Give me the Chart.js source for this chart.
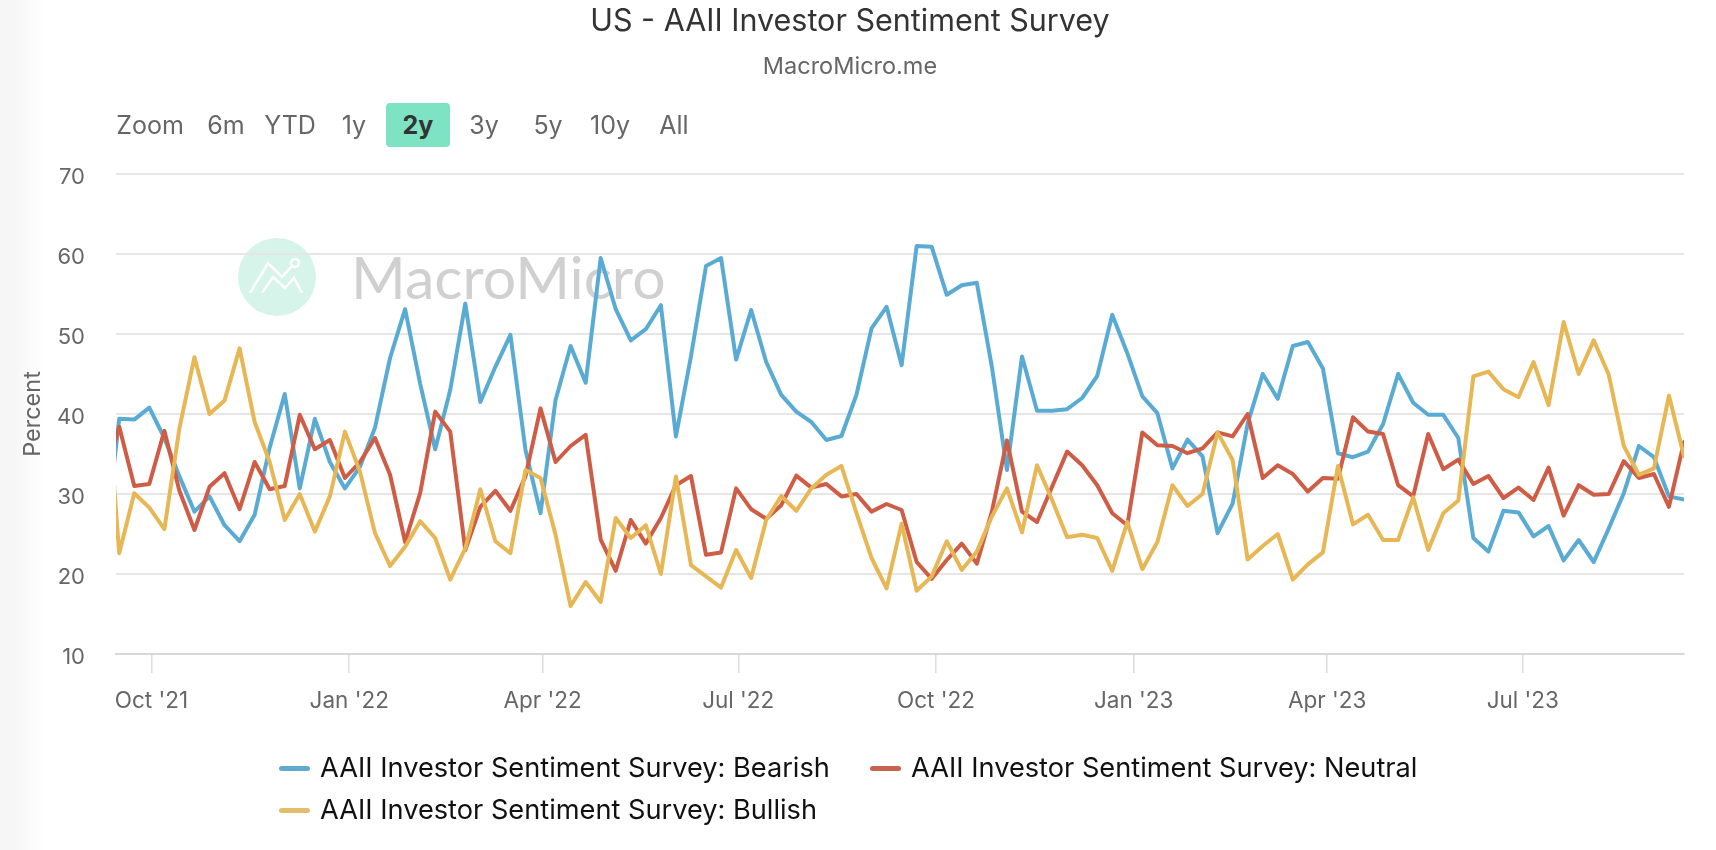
<!DOCTYPE html>
<html>
<head>
<meta charset="utf-8">
<title>US - AAII Investor Sentiment Survey</title>
<script src="https://cdn.jsdelivr.net/npm/chart.js@4"></script>
<style>
    html, body { margin: 0; padding: 0; background: #fff; }
    body { width: 1716px; height: 850px; position: relative; overflow: hidden; font-family: Inter, sans-serif; }
    #edge { position: absolute; left: 0; top: 0; width: 44px; height: 850px; background: linear-gradient(to right, #f6f6f6 0, #f6f6f6 14px, #fff 44px); }
    #chart { position: absolute; left: 0; top: 0; }
    .head { position: absolute; left: 0; width: 1700px; text-align: center; white-space: nowrap; }
    #title { top: 1px; font-size: 30.5px; color: #333; }
    #subtitle { top: 51px; font-size: 23.5px; color: #666; }
    #buttons span { position: absolute; top: 103px; height: 44px; line-height: 44px; font-size: 25px; color: #666; text-align: center; transform: translateX(-50%); white-space: nowrap; }
    #buttons span.active { width: 64px; background: #7de3c3; color: #333; font-weight: bold; border-radius: 4px; }
    #mark { position: absolute; left: 238px; top: 238px; width: 78px; height: 78px; filter: blur(0.4px); }
    #markText { position: absolute; left: 351px; top: 241px; font-family: Lato, sans-serif; font-size: 59px; color: #d0d0d0; filter: blur(0.7px); white-space: nowrap; }
    .item { position: absolute; height: 30px; line-height: 30px; font-size: 27.2px; color: #111; white-space: nowrap; }
    .item i { position: absolute; left: 0; top: 13px; width: 31px; height: 5px; border-radius: 3px; }
    .item span { position: absolute; left: 41px; }
</style>
</head>
<body>
<div id="edge"></div>
<svg id="mark" viewBox="0 0 78 78">
    <circle cx="39" cy="39" r="39" fill="#d6f4ea"/>
    <polyline points="12,55 30,25 44,39 54,28" fill="none" stroke="#fff" stroke-width="2.5"/>
    <circle cx="57" cy="25" r="4" fill="none" stroke="#fff" stroke-width="2.5"/>
    <polyline points="24,55 35,39 47,50 56,40 64,55" fill="none" stroke="#fff" stroke-width="2.5"/>
</svg>
<div id="markText">MacroMicro</div>
<canvas id="chart" width="1716" height="850"></canvas>
<div class="head" id="title">US - AAII Investor Sentiment Survey</div>
<div class="head" id="subtitle">MacroMicro.me</div>
<div id="buttons"></div>
<div id="legend"></div>
<script>
// ========================================
// DATA
// ========================================

const weekDates = [
    '2021-09-09', '2021-09-16', '2021-09-23', '2021-09-30', '2021-10-07', '2021-10-14', '2021-10-21', '2021-10-28',
    '2021-11-04', '2021-11-11', '2021-11-18', '2021-11-25', '2021-12-02', '2021-12-09', '2021-12-16', '2021-12-23',
    '2021-12-30', '2022-01-06', '2022-01-13', '2022-01-20', '2022-01-27', '2022-02-03', '2022-02-10', '2022-02-17',
    '2022-02-24', '2022-03-03', '2022-03-10', '2022-03-17', '2022-03-24', '2022-03-31', '2022-04-07', '2022-04-14',
    '2022-04-21', '2022-04-28', '2022-05-05', '2022-05-12', '2022-05-19', '2022-05-26', '2022-06-02', '2022-06-09',
    '2022-06-16', '2022-06-23', '2022-06-30', '2022-07-07', '2022-07-14', '2022-07-21', '2022-07-28', '2022-08-04',
    '2022-08-11', '2022-08-18', '2022-08-25', '2022-09-01', '2022-09-08', '2022-09-15', '2022-09-22', '2022-09-29',
    '2022-10-06', '2022-10-13', '2022-10-20', '2022-10-27', '2022-11-03', '2022-11-10', '2022-11-17', '2022-11-24',
    '2022-12-01', '2022-12-08', '2022-12-15', '2022-12-22', '2022-12-29', '2023-01-05', '2023-01-12', '2023-01-19',
    '2023-01-26', '2023-02-02', '2023-02-09', '2023-02-16', '2023-02-23', '2023-03-02', '2023-03-09', '2023-03-16',
    '2023-03-23', '2023-03-30', '2023-04-06', '2023-04-13', '2023-04-20', '2023-04-27', '2023-05-04', '2023-05-11',
    '2023-05-18', '2023-05-25', '2023-06-01', '2023-06-08', '2023-06-15', '2023-06-22', '2023-06-29', '2023-07-06',
    '2023-07-13', '2023-07-20', '2023-07-27', '2023-08-03', '2023-08-10', '2023-08-17', '2023-08-24', '2023-08-31',
    '2023-09-07', '2023-09-14'
];

const bearish = [
    23, 39.4, 39.3, 40.8, 37, 32.2, 27.8, 29.7, 26.1, 24.1, 27.4, 35.8, 42.5, 30.7, 39.4, 34, 30.7, 33.4, 38.3, 47, 53.1,
    43.8, 35.6, 43, 53.8, 41.5, 45.9, 49.9, 35.5, 27.6, 41.75, 48.5, 43.9, 59.5, 53.1, 49.2, 50.6, 53.6, 37.2, 47.2, 58.5,
    59.5, 46.8, 53, 46.5, 42.4, 40.3, 39, 36.75, 37.25, 42.4, 50.7, 53.4, 46.1, 61, 60.9, 54.9, 56.1, 56.4, 45.9, 33,
    47.2, 40.4, 40.4, 40.6, 42, 44.75, 52.4, 47.6, 42.2, 40.1, 33.2, 36.8, 34.7, 25.1, 28.8, 38.8, 45, 41.9, 48.5, 49,
    45.7, 35.1, 34.6, 35.3, 38.75, 45, 41.4, 39.9, 39.9, 37, 24.5, 22.8, 27.9, 27.7, 24.7, 26, 21.7, 24.25, 21.5, 25.7,
    30.1, 36, 34.6, 29.7, 29.3
];

const neutral = [
    32, 38.4, 31, 31.25, 37.9, 30.4, 25.5, 30.9, 32.6, 28.1, 34, 30.6, 31, 39.9, 35.6, 36.75, 32, 34, 37, 32.4, 24, 30.1,
    40.3, 37.8, 23, 28.4, 30.4, 27.9, 32.2, 40.7, 34, 36, 37.4, 24.3, 20.4, 26.75, 23.8, 27, 31.1, 32.25, 22.4, 22.7,
    30.7, 28.1, 26.9, 28.6, 32.3, 30.8, 31.25, 29.7, 30, 27.8, 28.75, 28, 21.5, 19.4, 21.75, 23.8, 21.3, 27.8, 36.7,
    27.8, 26.5, 30.9, 35.3, 33.6, 31.1, 27.6, 26.1, 37.7, 36.1, 36, 35.1, 35.7, 37.7, 37.2, 40, 32, 33.6, 32.5, 30.3, 32,
    31.9, 39.6, 37.8, 37.5, 31.1, 29.7, 37.5, 33.1, 34.3, 31.25, 32.25, 29.5, 30.8, 29.25, 33.3, 27.3, 31.1, 29.9, 30,
    34.1, 32, 32.5, 28.4, 36.5
];

const bullish = [
    47.6, 22.6, 30.1, 28.3, 25.6, 38.2, 47.1, 40, 41.7, 48.2, 39, 34, 26.75, 30, 25.3, 29.7, 37.8, 32.8, 25.1, 21, 23.4,
    26.6, 24.5, 19.3, 23.2, 30.6, 24.1, 22.6, 33, 32, 24.9, 16, 19, 16.5, 27, 24.5, 26.1, 20, 32.2, 21.1, 19.7, 18.3, 23,
    19.5, 26.75, 29.75, 27.9, 30.7, 32.4, 33.5, 27.6, 22, 18.2, 26.3, 17.9, 19.7, 24.1, 20.5, 22.8, 27.2, 30.7, 25.2,
    33.6, 29.25, 24.6, 24.9, 24.5, 20.4, 26.5, 20.6, 24, 31.1, 28.5, 30, 37.7, 34.25, 21.8, 23.5, 25, 19.3, 21.2, 22.7,
    33.5, 26.2, 27.4, 24.25, 24.25, 29.6, 23, 27.6, 29.2, 44.7, 45.3, 43.1, 42.1, 46.5, 41.1, 51.5, 45, 49.2, 44.9, 36,
    32.4, 33.2, 42.3, 34.7
];

const seriesNames = [
    'AAII Investor Sentiment Survey: Bearish',
    'AAII Investor Sentiment Survey: Neutral',
    'AAII Investor Sentiment Survey: Bullish'
];
const tickDates = ['2021-10-01', '2022-01-01', '2022-04-01', '2022-07-01', '2022-10-01', '2023-01-01', '2023-04-01', '2023-07-01'];
const tickLabels = ["Oct '21", "Jan '22", "Apr '22", "Jul '22", "Oct '22", "Jan '23", "Apr '23", "Jul '23"];
const yTicks = [10, 20, 30, 40, 50, 60, 70];
const rangeButtons = ['Zoom', '6m', 'YTD', '1y', '2y', '3y', '5y', '10y', 'All'];

// ========================================
// PAGE PARTS
// ========================================

const buttonCenters = [150, 226, 290, 354, 418, 484, 548, 610, 674];
const buttonsEl = document.getElementById('buttons');
rangeButtons.forEach((text, i) => {
    const el = document.createElement('span');
    el.textContent = text;
    el.style.left = buttonCenters[i] + 'px';
    if (text === '2y') el.className = 'active';
    buttonsEl.appendChild(el);
});

const ms = (d) => Date.parse(d + 'T00:00:00Z');
const toPoints = (values) => values.map((v, i) => ({ x: ms(weekDates[i]), y: v }));
const DAY = 86400000;

// y labels sit a little under their grid line in the original
const yLabelPlugin = {
    id: 'yLabels',
    afterDraw(chart) {
        const { ctx, scales } = chart;
        ctx.save();
        ctx.font = '22px Inter';
        ctx.fillStyle = '#666';
        ctx.textAlign = 'right';
        ctx.textBaseline = 'middle';
        yTicks.forEach(v => ctx.fillText(String(v), 85, scales.y.getPixelForValue(v) + 3.5));
        ctx.restore();
    }
};

// ========================================
// CHART
// ========================================

const chart = new Chart(document.getElementById('chart'), {
    type: 'line',
    data: {
        datasets: [
            { label: seriesNames[0], data: toPoints(bearish), borderColor: '#5aabd3', order: 3 },
            { label: seriesNames[1], data: toPoints(neutral), borderColor: '#cf5c45', order: 2 },
            { label: seriesNames[2], data: toPoints(bullish), borderColor: '#e8b755', order: 1 }
        ].map(d => ({ ...d, borderWidth: 4, pointRadius: 0, tension: 0, clip: 0, borderJoinStyle: 'round', borderCapStyle: 'round' }))
    },
    options: {
        responsive: false,
        animation: false,
        layout: { padding: { left: 0, right: 32, top: 174, bottom: 96 } },
        plugins: { legend: { display: false }, title: { display: false }, tooltip: { enabled: false } },
        scales: {
            x: {
                type: 'linear',
                min: ms('2021-09-14') + DAY / 2,
                max: ms('2023-09-14'),
                afterFit: (scale) => { scale.height = 100; },
                afterBuildTicks: (scale) => { scale.ticks = tickDates.map(d => ({ value: ms(d) })); },
                border: { color: '#d8d8d8', width: 2 },
                grid: { drawOnChartArea: false, drawTicks: true, tickLength: 19, color: '#dddddd', lineWidth: 1.5 },
                ticks: {
                    autoSkip: false,
                    maxRotation: 0,
                    minRotation: 0,
                    padding: 15,
                    color: '#666',
                    font: { family: 'Inter', size: 22.5 },
                    callback: (value) => tickLabels[tickDates.findIndex(d => ms(d) === value)]
                }
            },
            y: {
                min: 10,
                max: 70,
                afterFit: (scale) => { scale.width = 116; },
                afterBuildTicks: (scale) => { scale.ticks = yTicks.map(v => ({ value: v })); },
                border: { display: false },
                grid: { color: '#e6e6e6', lineWidth: 2, drawTicks: false },
                ticks: { display: false },
                title: {
                    display: true,
                    text: 'Percent',
                    color: '#666',
                    font: { family: 'Inter', size: 23.5, weight: 'normal' },
                    padding: { top: 19, bottom: 0 }
                }
            }
        }
    },
    plugins: [yLabelPlugin]
});

// ========================================
// LEGEND
// ========================================

const legendSpots = [[279, 753], [870, 753], [279, 795]];
const legendColors = ['#62a9cf', '#c9624c', '#e3bd6b'];
const legendEl = document.getElementById('legend');
chart.data.datasets.forEach((d, i) => {
    const item = document.createElement('div');
    item.className = 'item';
    item.style.left = legendSpots[i][0] + 'px';
    item.style.top = legendSpots[i][1] + 'px';
    item.innerHTML = `<i style="background:${legendColors[i]}"></i><span>${d.label}</span>`;
    legendEl.appendChild(item);
});
</script>
</body>
</html>
